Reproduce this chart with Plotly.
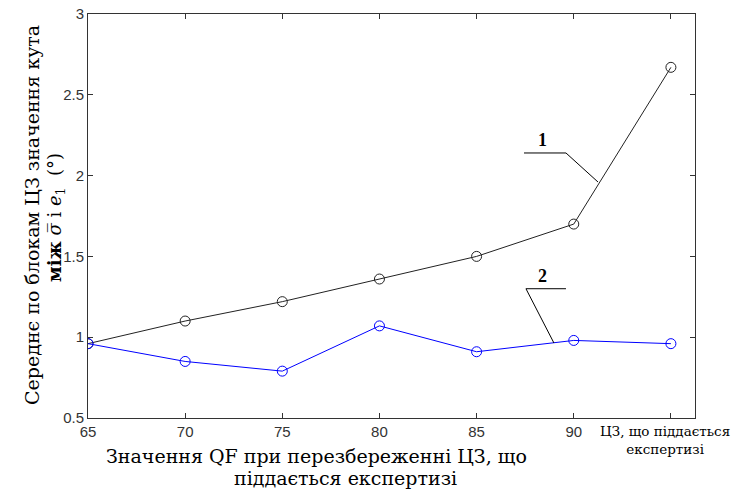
import plotly.graph_objects as go

qf = [65, 70, 75, 80, 85, 90, 95]
series1 = [0.96, 1.10, 1.22, 1.36, 1.50, 1.70, 2.67]
series2 = [0.96, 0.85, 0.79, 1.07, 0.91, 0.98, 0.96]
tick_vals = [65, 70, 75, 80, 85, 90]
tick_text = ["65", "70", "75", "80", "85", "90"]
last_label = "ЦЗ, що піддається<br>експертизі"

fig = go.Figure()
fig.add_trace(go.Scatter(x=qf, y=series1, mode="lines+markers",
                         line=dict(color="#222222", width=1),
                         marker=dict(symbol="circle-open", size=10, color="#222222", line=dict(width=1)),
                         showlegend=False))
fig.add_trace(go.Scatter(x=qf, y=series2, mode="lines+markers",
                         line=dict(color="#0000ff", width=1),
                         marker=dict(symbol="circle-open", size=10, color="#0000ff", line=dict(width=1)),
                         showlegend=False))

L, R, T, B = 88, 38, 14, 73
W, H = 733, 491
pw, ph = W - L - R, H - T - B

def px_x(px):
    return (px - L) / pw

def px_y(py):
    return 1 - (py - T) / ph

serif = "DejaVu Serif"
sans = "Liberation Sans"

# leader lines for series labels
for (hx0, hx1, hy, sx, dx, dy) in [(87.44, 89.6, 2.14, 89.6, 91.25, 1.96),
                                  (87.54, 89.6, 1.30, 87.54, 88.98, 0.964)]:
    fig.add_shape(type="line", x0=hx0, x1=hx1, y0=hy, y1=hy, xref="x", yref="y",
                  line=dict(color="black", width=1))
    fig.add_shape(type="line", x0=sx, x1=dx, y0=hy, y1=dy, xref="x", yref="y",
                  line=dict(color="black", width=1))

fig.add_annotation(x=88.4, y=2.22, xref="x", yref="y", text="<b>1</b>", showarrow=False,
                   font=dict(family="Liberation Serif", size=18, color="black"))
fig.add_annotation(x=88.4, y=1.38, xref="x", yref="y", text="<b>2</b>", showarrow=False,
                   font=dict(family="Liberation Serif", size=18, color="black"))

# y title (two rotated lines)
fig.add_annotation(x=px_x(32), y=px_y(215), xref="paper", yref="paper",
                   xanchor="center", yanchor="middle",
                   text="Середнє по блокам ЦЗ значення кута",
                   textangle=-90, showarrow=False,
                   font=dict(family=serif, size=19, color="black"))
fig.add_annotation(x=px_x(56), y=px_y(218), xref="paper", yref="paper",
                   xanchor="center", yanchor="middle",
                   text="<b>між</b> <i>σ̅</i> і <i>e</i><sub>1</sub>  (°)",
                   textangle=-90, showarrow=False,
                   font=dict(family=serif, size=18, color="black"))
# x title
fig.add_annotation(x=px_x(316), y=px_y(456), xref="paper", yref="paper",
                   xanchor="center", yanchor="middle",
                   text="Значення QF при перезбереженні ЦЗ, що",
                   showarrow=False, font=dict(family=serif, size=19, color="black"))
fig.add_annotation(x=px_x(345), y=px_y(478), xref="paper", yref="paper",
                   xanchor="center", yanchor="middle",
                   text="піддається експертизі",
                   showarrow=False, font=dict(family=serif, size=19, color="black"))
# last tick label
fig.add_annotation(x=px_x(665), y=px_y(440), xref="paper", yref="paper",
                   xanchor="center", yanchor="middle",
                   text=last_label, showarrow=False,
                   font=dict(family=serif, size=13.5, color="black"))

fig.update_layout(
    width=W, height=H,
    margin=dict(l=L, r=R, t=T, b=B, autoexpand=False),
    paper_bgcolor="white", plot_bgcolor="white",
    xaxis=dict(range=[65, 96.24], tickvals=tick_vals + [95], ticktext=tick_text + [" "],
               ticks="inside", ticklen=5, tickcolor="#333", mirror="ticks", automargin=False,
               showline=True, linecolor="#333", linewidth=1, showgrid=False, zeroline=False,
               tickfont=dict(family=sans, size=15, color="#333")),
    yaxis=dict(range=[0.5, 3], tickvals=[0.5, 1, 1.5, 2, 2.5, 3],
               ticktext=["0.5", "1", "1.5", "2", "2.5", "3"],
               ticks="inside", ticklen=5, tickcolor="#333", mirror="ticks", automargin=False,
               showline=True, linecolor="#333", linewidth=1, showgrid=False, zeroline=False,
               tickfont=dict(family=sans, size=15, color="#333")),
)

fig.write_html("out.html", config={"displayModeBar": False},
               post_script="document.body.style.margin='0';")
